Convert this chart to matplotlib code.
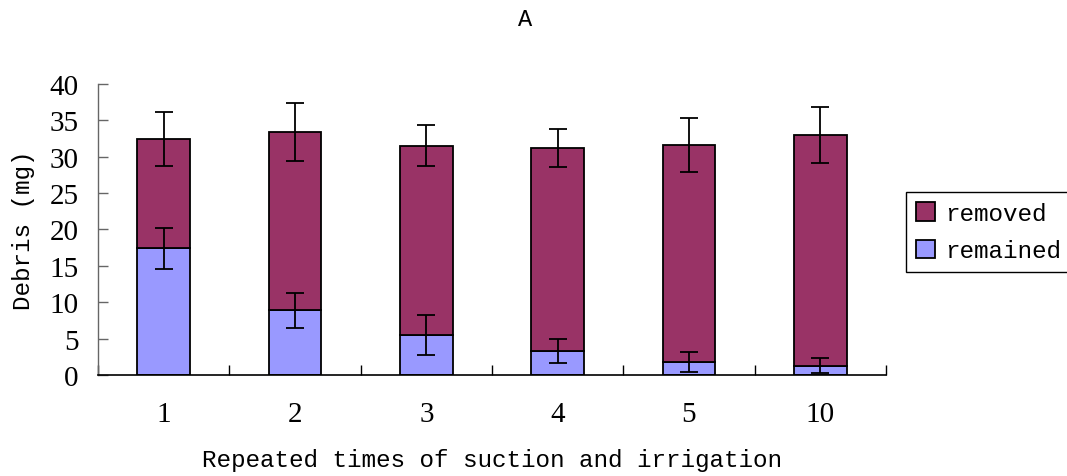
import numpy as np
import matplotlib.pyplot as plt
from matplotlib.patches import Patch

# repeated times of suction and irrigation
categories = ['1', '2', '3', '4', '5', '10']
remained = [17.4, 8.9, 5.5, 3.3, 1.8, 1.3]
remained_err = [2.85, 2.4, 2.7, 1.65, 1.35, 1.0]
removed = [15.0, 24.5, 26.0, 27.9, 29.8, 31.6]
removed_err = [3.65, 3.95, 2.85, 2.6, 3.7, 3.85]

plt.rcParams['font.family'] = ['Liberation Mono', 'DejaVu Sans Mono']

fig = plt.figure(figsize=(10.67, 4.77), dpi=100)
ax = fig.add_axes([98 / 1067, 1 - 376 / 477, 788 / 1067, (376 - 84.7) / 477])

x = np.arange(1, len(categories) + 1)
total = np.array(remained) + np.array(removed)

# stacked bars
ax.bar(x, remained, width=0.4, color='#9999FF', edgecolor='black', linewidth=1.3, zorder=2)
ax.bar(x, removed, width=0.4, bottom=remained, color='#993366', edgecolor='black',
       linewidth=1.3, zorder=2)

# error bars
ax.errorbar(x, remained, yerr=remained_err, fmt='none', ecolor='black',
            elinewidth=1.3, capsize=6.5, capthick=1.3, zorder=3)
ax.errorbar(x, total, yerr=removed_err, fmt='none', ecolor='black',
            elinewidth=1.3, capsize=6.5, capthick=1.3, zorder=3)

ax.set_xlim(0.5, 6.5)
ax.set_ylim(0, 40)
ax.set_yticks(np.arange(0, 41, 5))
ax.set_xticks(x)
ax.set_xticklabels(categories)
ax.set_xticks(np.arange(0.5, 6.6, 1), minor=True)

ax.tick_params(axis='x', which='major', length=0, pad=19)
ax.tick_params(axis='x', which='minor', direction='in', length=7, width=1)
ax.tick_params(axis='y', direction='in', length=7, width=1, pad=14, color='#666666')
for lab in ax.get_xticklabels() + ax.get_yticklabels():
    lab.set_family('Liberation Serif')
    lab.set_fontsize(21)

for s in ['top', 'right']:
    ax.spines[s].set_visible(False)
ax.spines['left'].set_color('#666666')
ax.spines['left'].set_linewidth(1)
ax.spines['bottom'].set_linewidth(1.2)

ax.set_ylabel('Debris (mg)', fontsize=17.5, labelpad=10)
ax.set_xlabel('Repeated times of suction and irrigation', fontsize=17.5, labelpad=15)
fig.text(525 / 1067, 1 - 20 / 477, 'A', fontsize=17, ha='center', va='center')

# Make a legend
handles = [Patch(facecolor='#993366', edgecolor='black', linewidth=1.3, label='removed'),
           Patch(facecolor='#9999FF', edgecolor='black', linewidth=1.3, label='remained')]
leg = ax.legend(handles=handles, loc='upper left', fontsize=17.5,
                bbox_to_anchor=(906 / 1067, 1 - 193 / 477), bbox_transform=fig.transFigure,
                borderaxespad=0, fancybox=False, framealpha=1, edgecolor='black',
                handlelength=0.8, handleheight=0.8, handletextpad=0.4,
                labelspacing=0.6, borderpad=0.4)
leg.get_frame().set_linewidth(1)

fig.savefig('out.png', dpi=100)
